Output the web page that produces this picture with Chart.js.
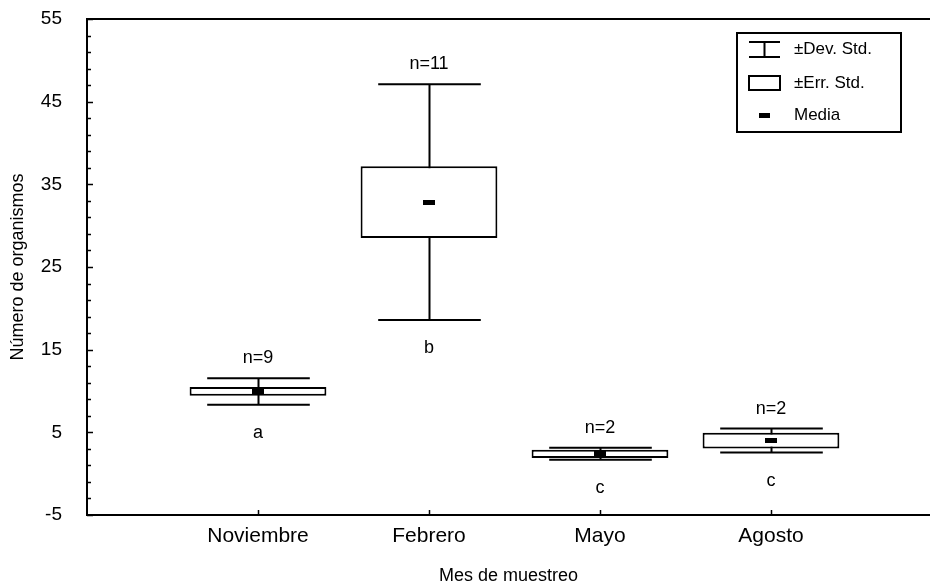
<!DOCTYPE html>
<html>
<head>
<meta charset="utf-8">
<script src="https://cdn.jsdelivr.net/npm/chart.js@4.4.0/dist/chart.umd.min.js"></script>
<style>
  html, body { margin: 0; padding: 0; background: #fff; overflow: hidden; }
  #wrap { width: 930px; height: 588px; }
</style>
</head>
<body>
<div id="wrap"><canvas id="chart"></canvas></div>
<script>
// Monthly means with standard error (box) and standard deviation (whiskers)
const months = ["Noviembre", "Febrero", "Mayo", "Agosto"];
const means = [9.95, 32.85, 2.4, 4.0];
const stdErr = [0.52, 4.35, 0.5, 0.95];
const stdDev = [1.6, 14.25, 0.72, 1.45];
const nLabels = ["n=9", "n=11", "n=2", "n=2"];
const groups = ["a", "b", "c", "c"];
const yMin = -5, yMax = 55, yStep = 10, yMinorStep = 2;
const xMax = 4.93;

const FONT = 'Arial, "Liberation Sans", sans-serif';
Chart.defaults.font.family = FONT;
Chart.defaults.color = '#000';

const ctx = document.getElementById('chart').getContext('2d');

const boxData = months.map((m, i) => ({ x: i + 1, y: [means[i] - stdErr[i], means[i] + stdErr[i]] }));

// whiskers, means, n / group labels, inward ticks, frame top and legend
const boxPlotExtras = {
  id: 'boxPlotExtras',
  beforeDatasetsDraw(chart) {
    const { ctx, scales: { x, y } } = chart;
    const step = x.getPixelForValue(2) - x.getPixelForValue(1);
    const capHalf = step * 0.3;
    ctx.save();
    ctx.strokeStyle = '#000';
    ctx.lineWidth = 2;
    means.forEach((m, i) => {
      const cx = Math.round(x.getPixelForValue(i + 1)) + 0.5;
      const top = y.getPixelForValue(m + stdDev[i]);
      const bot = y.getPixelForValue(m - stdDev[i]);
      ctx.beginPath();
      ctx.moveTo(cx, top); ctx.lineTo(cx, bot);
      ctx.moveTo(cx - capHalf, top); ctx.lineTo(cx + capHalf, top);
      ctx.moveTo(cx - capHalf, bot); ctx.lineTo(cx + capHalf, bot);
      ctx.stroke();
    });
    ctx.restore();
  },
  afterDatasetsDraw(chart) {
    const { ctx, chartArea: area, scales: { x, y } } = chart;
    ctx.save();
    ctx.fillStyle = '#000';
    ctx.strokeStyle = '#000';

    // mean markers
    means.forEach((m, i) => {
      const cx = x.getPixelForValue(i + 1);
      const cy = y.getPixelForValue(m);
      ctx.fillRect(Math.round(cx - 6), Math.round(cy - 2.5), 12, 5);
    });

    // sample sizes above, group letters below
    ctx.font = '18px ' + FONT;
    ctx.textAlign = 'center';
    ctx.textBaseline = 'middle';
    means.forEach((m, i) => {
      const cx = x.getPixelForValue(i + 1);
      ctx.fillText(nLabels[i], cx, y.getPixelForValue(m + stdDev[i]) - 20);
      ctx.fillText(groups[i], cx, y.getPixelForValue(m - stdDev[i]) + 28);
    });

    // inward tick marks
    ctx.lineWidth = 1.5;
    ctx.beginPath();
    y.ticks.forEach(t => {
      const py = Math.round(y.getPixelForValue(t.value)) + 0.5;
      const len = (t.value - yMin) % yStep === 0 ? 6 : 4;
      ctx.moveTo(area.left, py); ctx.lineTo(area.left + len, py);
    });
    x.ticks.forEach(t => {
      const px = Math.round(x.getPixelForValue(t.value)) + 0.5;
      ctx.moveTo(px, area.bottom); ctx.lineTo(px, area.bottom - 5);
    });
    ctx.stroke();

    // top frame line
    ctx.lineWidth = 2;
    ctx.beginPath();
    ctx.moveTo(area.left - 1, area.top); ctx.lineTo(area.right, area.top);
    ctx.stroke();

    // legend
    ctx.strokeRect(737, 33, 164, 99);
    ctx.beginPath();
    ctx.moveTo(749, 42); ctx.lineTo(780, 42);
    ctx.moveTo(749, 57); ctx.lineTo(780, 57);
    ctx.moveTo(764.5, 42); ctx.lineTo(764.5, 57);
    ctx.stroke();
    ctx.strokeRect(749, 76, 31, 14);
    ctx.fillRect(759, 113, 11, 5);
    ctx.font = '17px ' + FONT;
    ctx.textAlign = 'left';
    ctx.fillText('\u00b1Dev. Std.', 794, 49);
    ctx.fillText('\u00b1Err. Std.', 794, 83);
    ctx.fillText('Media', 794, 115);
    ctx.restore();
  }
};

new Chart(ctx, {
  type: 'bar',
  data: {
    datasets: [{
      data: boxData,
      backgroundColor: '#fff',
      borderColor: '#000',
      borderWidth: 2,
      borderSkipped: false,
      categoryPercentage: 0.8,
      barPercentage: 1
    }]
  },
  options: {
    responsive: true,
    maintainAspectRatio: false,
    animation: false,
    layout: { padding: { top: 19, right: 0, bottom: 0, left: 0 } },
    plugins: { legend: { display: false }, tooltip: { enabled: false } },
    scales: {
      x: {
        type: 'linear',
        offset: false,
        min: 0,
        max: xMax,
        afterBuildTicks: s => { s.ticks = months.map((m, i) => ({ value: i + 1 })); },
        afterFit: s => { s.height = 73; s.paddingLeft = 0; s.paddingRight = 0; },
        grid: { display: false, drawTicks: false },
        border: { display: true, color: '#000', width: 2 },
        ticks: {
          padding: 9,
          autoSkip: false,
          maxRotation: 0,
          font: { size: 21 },
          callback: v => months[v - 1] || ''
        },
        title: { display: true, text: 'Mes de muestreo', font: { size: 18 }, padding: { top: 0, bottom: 1 } }
      },
      y: {
        min: yMin,
        max: yMax,
        afterFit: s => { s.width = 87; s.paddingTop = 0; s.paddingBottom = 0; },
        grid: { display: false, drawTicks: false },
        border: { display: true, color: '#000', width: 2 },
        ticks: {
          stepSize: yMinorStep,
          autoSkip: false,
          padding: 25,
          font: { size: 19 },
          callback: v => ((v - yMin) % yStep === 0 ? v : '')
        },
        title: { display: true, text: 'Número de organismos', font: { size: 18 }, padding: { top: 7, bottom: 0 } }
      }
    }
  },
  plugins: [boxPlotExtras]
});
</script>
</body>
</html>
